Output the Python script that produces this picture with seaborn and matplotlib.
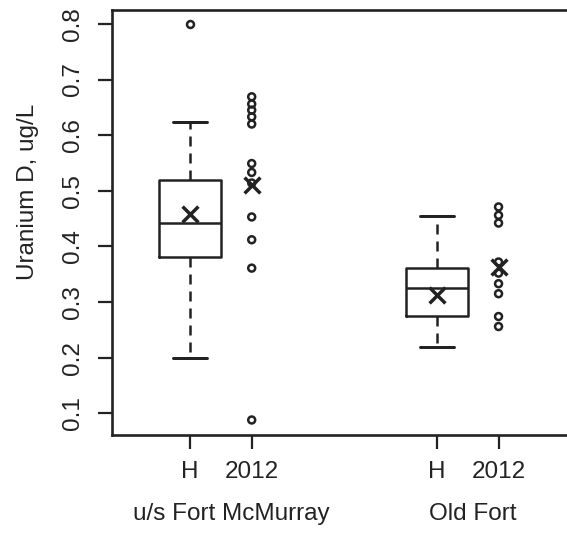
import matplotlib
matplotlib.use("Agg")
import matplotlib.pyplot as plt
import seaborn as sns

# Sites and period labels
sites = ["u/s Fort McMurray", "Old Fort"]
period_labels = ["H", "2012"]

# Historical (H) summary statistics per site
hist_whislo = [0.200, 0.219]
hist_q1 = [0.381, 0.275]
hist_med = [0.443, 0.325]
hist_q3 = [0.519, 0.362]
hist_whishi = [0.624, 0.455]
hist_mean = [0.458, 0.313]
hist_outliers = [[0.80], []]

# 2012 dissolved uranium observations (ug/L)
obs2012_fort_mcmurray = [0.669, 0.656, 0.645, 0.633, 0.620, 0.549, 0.533,
                         0.514, 0.453, 0.412, 0.361, 0.088]
obs2012_old_fort = [0.471, 0.456, 0.442, 0.372, 0.352, 0.333, 0.315,
                    0.274, 0.256]

y_ticks = [0.1, 0.2, 0.3, 0.4, 0.5, 0.6, 0.7, 0.8]

# x positions of the H boxes and 2012 strips
pos_h = [1, 5]
pos_2012 = [2, 6]

ink = "#222222"
sns.set_theme(style="white")
plt.rcParams["font.family"] = ["Liberation Sans", "DejaVu Sans"]

fig = plt.figure(figsize=(5.67, 5.33), dpi=100)
W, H = 567, 533
ax = fig.add_axes([112 / W, 1 - 435 / H, (580 - 112) / W, 425 / H])

stats = []
for i in range(len(sites)):
    stats.append(dict(whislo=hist_whislo[i], q1=hist_q1[i], med=hist_med[i],
                      q3=hist_q3[i], whishi=hist_whishi[i],
                      fliers=hist_outliers[i], label=period_labels[0]))

lw = 1.8
ax.bxp(stats, positions=pos_h, widths=1.0, capwidths=0.55,
       showfliers=True, manage_ticks=False,
       boxprops=dict(color=ink, lw=lw),
       whiskerprops=dict(color=ink, lw=lw, ls=(0, (4.0, 2.8))),
       capprops=dict(color=ink, lw=lw * 1.2),
       medianprops=dict(color=ink, lw=lw),
       flierprops=dict(marker="o", mfc="none", mec=ink, ms=5.0, mew=1.8))

# Means of the historical record
sns.scatterplot(x=pos_h, y=hist_mean, marker="x", s=130, color=ink,
                linewidth=2.5, ax=ax, zorder=4)

# 2012 observations with their means
for x, vals in zip(pos_2012, [obs2012_fort_mcmurray, obs2012_old_fort]):
    sns.scatterplot(x=[x] * len(vals), y=vals, marker="o", s=25,
                    facecolor="none", edgecolor=ink, linewidth=1.8,
                    ax=ax, zorder=3)
    sns.scatterplot(x=[x], y=[sum(vals) / len(vals)], marker="x", s=130,
                    color=ink, linewidth=2.5, ax=ax, zorder=4)

ax.set_xlim(-0.264, 7.32)
ax.set_ylim(0.061, 0.825)

ax.set_yticks(y_ticks)
ax.set_yticklabels([f"{v:.1f}" for v in y_ticks])
ax.set_xticks(pos_h + pos_2012)
ax.set_xticklabels([period_labels[0]] * 2 + [period_labels[1]] * 2)
ax.set_xlabel("")
ax.set_ylabel("")

ax.tick_params(axis="both", which="major", direction="out", length=9.8,
               width=1.6, color=ink, labelcolor=ink, labelsize=17.5,
               left=True, bottom=True)
ax.tick_params(axis="y", labelrotation=90, pad=10.5)
ax.tick_params(axis="x", pad=9)
for lab in ax.get_yticklabels():
    lab.set_va("center")

for side in ["left", "bottom", "top"]:
    ax.spines[side].set_color(ink)
    ax.spines[side].set_linewidth(1.9)
ax.spines["right"].set_visible(False)

# Site names below the period labels
for px, name in zip([231, 473], sites):
    fig.text(px / W, 1 - 520 / H, name, ha="center", va="baseline",
             fontsize=17.5, color=ink)

fig.text(28 / W, 1 - 192 / H, "Uranium D, ug/L", rotation=90,
         ha="center", va="center", fontsize=17.5, color=ink)

fig.savefig("out.png", dpi=100)
